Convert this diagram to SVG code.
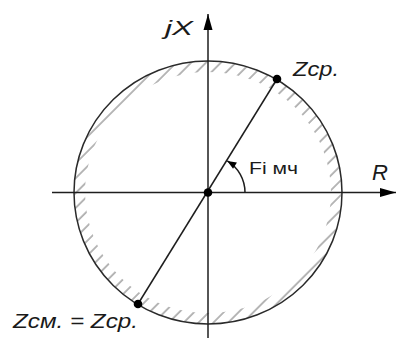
<svg xmlns="http://www.w3.org/2000/svg" width="396" height="340" viewBox="0 0 396 340">
<style>
.ln{stroke:#1e1e1e;stroke-width:1.5;fill:none}
.cir{stroke:#2a2a2a;stroke-width:1.5;fill:none}
.dot{fill:#000}
.lbl{font-family:"Liberation Sans",Arial,sans-serif;font-style:italic;fill:#1a1a1a}
.ang{font-family:"Liberation Sans",Arial,sans-serif;fill:#1a1a1a}
</style>
<defs>
<marker id="ax" markerUnits="userSpaceOnUse" markerWidth="18" markerHeight="12" refX="16" refY="6" orient="auto" overflow="visible"><path d="M0,1.5 L16,6 L0,10.5 z" fill="#000"/></marker>
<marker id="sm" markerUnits="userSpaceOnUse" markerWidth="12" markerHeight="10" refX="9" refY="4" orient="auto" overflow="visible"><path d="M0,0.3 L9,4 L0,7.7 z" fill="#000"/></marker>
<pattern id="h" patternUnits="userSpaceOnUse" width="10.5" height="10.5" patternTransform="rotate(45)"><line x1="1" y1="0" x2="1" y2="10.5" stroke="#999" stroke-width="1.4"/></pattern>
</defs>
<g id="hatch">
<path fill="url(#h)" fill-rule="evenodd" d="M74,192.5 a134,131.5 0 1,0 268,0 a134,131.5 0 1,0 -268,0 Z M85,192.5 a123,120.5 0 1,0 246,0 a123,120.5 0 1,0 -246,0 Z"/>
</g>
<g id="characteristic">
<ellipse class="cir" cx="208" cy="192.5" rx="134" ry="131.5"/>
</g>
<g id="connectors">
<line id="axis-jX" class="ln" x1="208" y1="338" x2="208" y2="14" marker-end="url(#ax)"/>
<line id="axis-R" class="ln" x1="52" y1="192.5" x2="396" y2="192.5" marker-end="url(#ax)"/>
<line id="diameter" class="ln" x1="277" y1="79" x2="138" y2="304"/>
<path id="angle-arc" class="ln" d="M245,192.5 A37,37 0 0 0 227.3,160.9" marker-end="url(#sm)"/>
</g>
<g id="node-origin"><circle class="dot" cx="208" cy="192.5" r="4.3"/></g>
<g id="node-zcp"><circle class="dot" cx="277" cy="79" r="4.3"/><text class="lbl" x="293" y="76" font-size="21" textLength="46" lengthAdjust="spacingAndGlyphs">Zср.</text></g>
<g id="node-zcm"><circle class="dot" cx="138" cy="304" r="4.3"/><text class="lbl" x="13" y="328" font-size="21" textLength="125" lengthAdjust="spacingAndGlyphs">Zсм. = Zср.</text></g>
<g id="labels">
<text class="lbl" x="165" y="35" font-size="21" textLength="28" lengthAdjust="spacingAndGlyphs">jX</text>
<text class="lbl" x="372" y="180" font-size="22">R</text>
<text class="ang" x="249" y="174" font-size="16" textLength="49" lengthAdjust="spacingAndGlyphs">Fi мч</text>
</g>
</svg>
